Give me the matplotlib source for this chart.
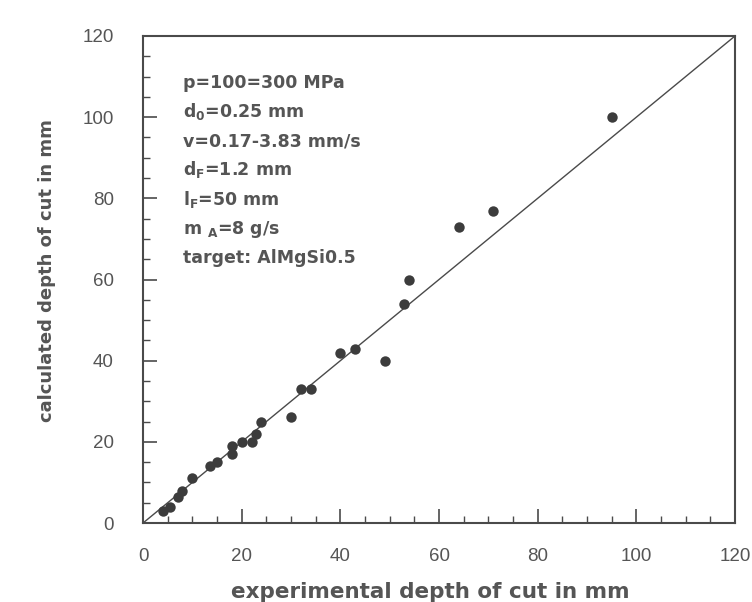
import matplotlib
matplotlib.use('Agg')
import matplotlib.pyplot as plt
from matplotlib.ticker import MultipleLocator

plt.rcParams['font.family'] = ['DejaVu Sans']
plt.rcParams['mathtext.fontset'] = 'dejavusans'

# experimental vs calculated depth of cut (mm)
experimental = [4, 5.5, 7, 8, 10, 13.5, 15, 18, 18, 20, 22, 23, 24,
                30, 32, 34, 40, 43, 49, 53, 54, 64, 71, 95]
calculated = [3, 4, 6.5, 8, 11, 14, 15, 17, 19, 20, 20, 22, 25,
              26, 33, 33, 42, 43, 40, 54, 60, 73, 77, 100]

info_lines = [
    'p=100=300 MPa',
    r'd$_\mathbf{0}$=0.25 mm',
    'v=0.17-3.83 mm/s',
    r'd$_\mathbf{F}$=1.2 mm',
    r'l$_\mathbf{F}$=50 mm',
    r'm $_\mathbf{A}$=8 g/s',
    'target: AlMgSi0.5',
]

grey = '#4a4a4a'
text_grey = '#555555'

fig = plt.figure(figsize=(7.52, 6.02), dpi=100)
ax = fig.add_axes([0.1902, 0.1312, 0.7872, 0.809])

ax.plot([0, 120], [0, 120], color=grey, lw=1.0, zorder=2)
ax.plot(experimental, calculated, 'o', color='#3c3c3c', markersize=7.5,
        markeredgewidth=0, zorder=3)

ax.set_xlim(0, 120)
ax.set_ylim(0, 120)
ax.xaxis.set_major_locator(MultipleLocator(20))
ax.xaxis.set_minor_locator(MultipleLocator(5))
ax.yaxis.set_major_locator(MultipleLocator(20))
ax.yaxis.set_minor_locator(MultipleLocator(5))
ax.tick_params(which='both', direction='in', top=False, right=False,
               colors=grey, labelcolor=text_grey, labelsize=13.5)
ax.tick_params(which='major', length=10, width=1.2)
ax.tick_params(which='minor', length=5, width=1.0)
ax.tick_params(axis='x', which='major', pad=18)
ax.tick_params(axis='y', which='major', pad=21)
for lab in ax.get_xticklabels() + ax.get_yticklabels():
    lab.set_family('Liberation Sans')
for s in ax.spines.values():
    s.set_color(grey)
    s.set_linewidth(1.5)

ax.set_xlabel('experimental depth of cut in mm', fontsize=15.5,
              fontweight='bold', color=text_grey, va='center')
ax.set_ylabel('calculated depth of cut in mm', fontsize=13,
              fontweight='bold', color=text_grey, va='center')
ax.xaxis.set_label_coords(0.485, -0.142)
ax.yaxis.set_label_coords(-0.163, 0.518)

for i, line in enumerate(info_lines):
    ax.text(8.1, 107.2 - i * 7.18, line, fontsize=12.5, fontweight='bold',
            color=text_grey, va='baseline', ha='left')

fig.savefig('out.png', dpi=100, facecolor='white')
